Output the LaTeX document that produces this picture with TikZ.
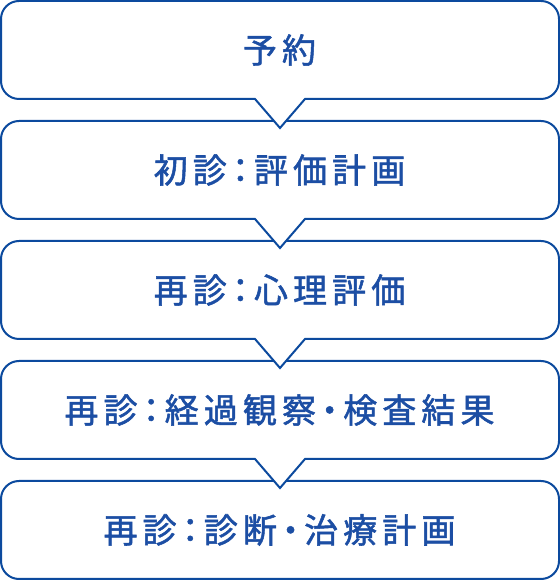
\documentclass[tikz,border=0pt]{standalone}
\usepackage{fontspec}
\newfontfamily\jp[LetterSpace=15,RawFeature={+palt},FakeBold=1.5]{Noto Sans CJK JP}
\definecolor{boxblue}{RGB}{12,74,158}
\definecolor{txtblue}{RGB}{28,78,164}
\tikzset{
  boxline/.style={draw=boxblue, line width=2bp, fill=white, line join=miter},
  lbl/.style={text=txtblue, font=\jp\fontsize{34bp}{36bp}\selectfont, inner sep=0pt, anchor=center}
}
% #1 = top (pixel), #2 = 1 with notch, 0 without
\newcommand{\flowshape}[2]{%
  \pgfmathsetmacro{\T}{580-#1}%
  \pgfmathsetmacro{\B}{\T-98}%
  \ifnum#2=1
  \path[boxline] (19,\T) -- (541,\T) arc[start angle=90,end angle=0,radius=18] -- (559,\B+18)
    arc[start angle=0,end angle=-90,radius=18] -- (305,\B) -- (280,\B-29) -- (255,\B) -- (19,\B)
    arc[start angle=270,end angle=180,radius=18] -- (1,\T-18) arc[start angle=180,end angle=90,radius=18] -- cycle;
  \else
  \path[boxline] (19,\T) -- (541,\T) arc[start angle=90,end angle=0,radius=18] -- (559,\B+18)
    arc[start angle=0,end angle=-90,radius=18] -- (19,\B)
    arc[start angle=270,end angle=180,radius=18] -- (1,\T-18) arc[start angle=180,end angle=90,radius=18] -- cycle;
  \fi
}
\begin{document}
\begin{tikzpicture}[x=1bp,y=1bp]
\useasboundingbox (0,0) rectangle (560,580);
\flowshape{481}{0}
\flowshape{361}{1}
\flowshape{241}{1}
\flowshape{121}{1}
\flowshape{1}{1}
\node[lbl] (s1) at (279.5,580-50) {予約};
\node[lbl] (s2) at (279.5,580-170) {初診：評価計画};
\node[lbl] (s3) at (279.5,580-290) {再診：心理評価};
\node[lbl] (s4) at (279.5,580-410) {再診：経過観察・検査結果};
\node[lbl] (s5) at (279.5,580-530) {再診：診断・治療計画};
\end{tikzpicture}
\end{document}
